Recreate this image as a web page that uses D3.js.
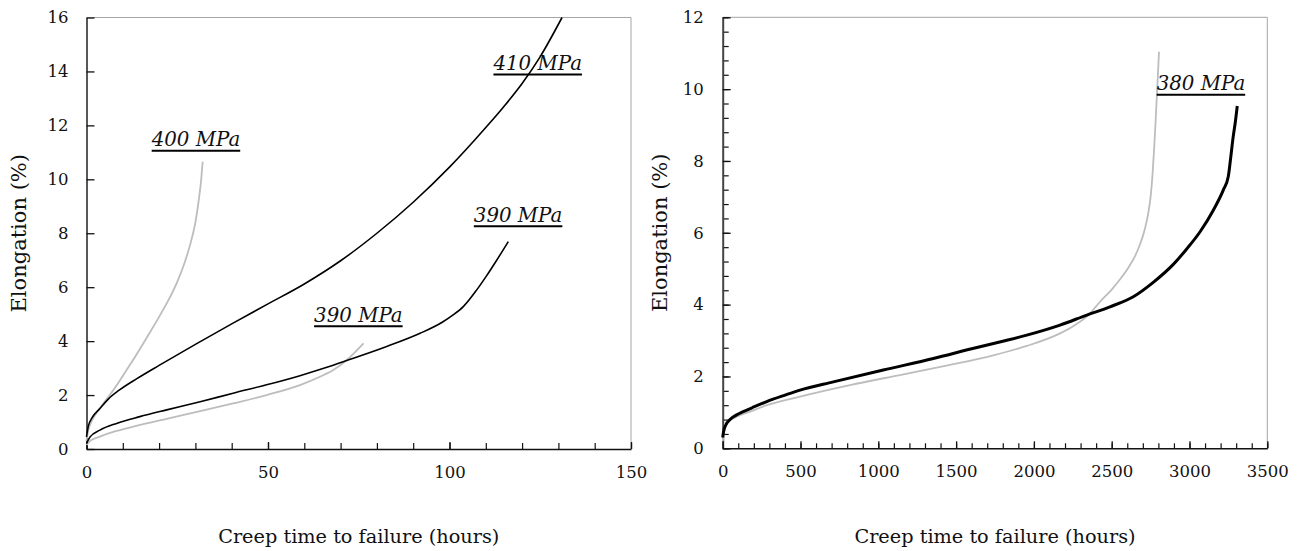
<!DOCTYPE html>
<html><head><meta charset="utf-8">
<script src="https://cdn.jsdelivr.net/npm/d3@7"></script>
<style>
body{margin:0;background:#fff;}
svg{display:block;font-family:"DejaVu Serif",serif;}
</style></head>
<body>
<svg id="c" width="1304" height="551"></svg>
<script>
// ---- Data ----
const leftXTicks = [0, 50, 100, 150];
const leftYTicks = [0, 2, 4, 6, 8, 10, 12, 14, 16];
const rightXTicks = [0, 500, 1000, 1500, 2000, 2500, 3000, 3500];
const rightYTicks = [0, 2, 4, 6, 8, 10, 12];

const left400gray = [[0,0.3],[0.5,0.7],[1.5,1.05],[3,1.38],[5,1.75],[8,2.3],[11,2.92],[14,3.55],[17,4.22],[20,4.9],[22.5,5.5],[25,6.2],[27,6.9],[28.5,7.55],[30,8.4],[31,9.3],[31.6,10.0],[32,10.65]];
const left410black = [[0,0.45],[0.5,0.85],[1.5,1.15],[3.7,1.5],[6,1.85],[9.2,2.2],[14,2.62],[20,3.1],[30,3.88],[40,4.64],[50,5.38],[60,6.12],[70,6.98],[80,8.0],[90,9.15],[100,10.45],[110,11.92],[115,12.7],[120,13.55],[125,14.55],[131,16.0]];
const left390black = [[0,0.2],[1,0.45],[3.7,0.7],[8.3,0.95],[14.7,1.2],[22.1,1.45],[31.3,1.75],[40.4,2.07],[49.6,2.38],[58.8,2.72],[66,3.02],[71.7,3.28],[82.7,3.8],[91.9,4.29],[98,4.7],[101,4.97],[103.8,5.28],[107.5,5.9],[110.2,6.42],[113,7.0],[116.2,7.69]];
const left390gray = [[0,0.15],[1,0.3],[3.7,0.46],[8,0.66],[12.9,0.83],[22.1,1.12],[31.3,1.4],[40.4,1.69],[49.6,2.0],[58.8,2.37],[64.3,2.68],[68,2.93],[71.7,3.3],[76.3,3.92]];

const right380black = [[0,0.3],[5,0.45],[20,0.65],[47,0.8],[90,0.93],[132,1.02],[200,1.15],[283,1.3],[400,1.48],[497,1.62],[711,1.85],[1032,2.18],[1354,2.5],[1600,2.77],[1800,2.98],[1954,3.15],[2168,3.43],[2340,3.71],[2489,3.94],[2639,4.22],[2767,4.62],[2896,5.12],[2982,5.55],[3068,6.03],[3153,6.63],[3217,7.19],[3249,7.56],[3265,8.1],[3280,8.65],[3295,9.1],[3307,9.53]];
const right380gray = [[0,0.2],[5,0.35],[15,0.6],[40,0.75],[90,0.88],[180,1.03],[283,1.2],[497,1.44],[818,1.76],[1139,2.04],[1461,2.32],[1643,2.49],[1739,2.59],[1954,2.85],[2168,3.2],[2260,3.42],[2350,3.71],[2425,4.08],[2500,4.42],[2560,4.74],[2610,5.05],[2650,5.35],[2682,5.68],[2714,6.12],[2735,6.55],[2750,7.0],[2762,7.6],[2772,8.3],[2781,9.0],[2790,9.8],[2797,10.4],[2804,11.04]];

const xTitle = "Creep time to failure (hours)";
const yTitle = "Elongation (%)";

// ---- Drawing ----
const svg = d3.select("#c");
const fmt = d3.format("d");

function panel(cfg){
  const g = svg.append("g");
  const x = d3.scaleLinear().domain(cfg.xd).range(cfg.xr);
  const y = d3.scaleLinear().domain(cfg.yd).range(cfg.yr);
  g.append("line").attr("x1",x(cfg.xd[0])).attr("x2",x(cfg.xd[1])).attr("y1",y(cfg.yd[1])).attr("y2",y(cfg.yd[1])).attr("stroke","#a6a6a6").attr("stroke-width",1);
  g.append("line").attr("x1",x(cfg.xd[1])).attr("x2",x(cfg.xd[1])).attr("y1",y(cfg.yd[1])).attr("y2",y(cfg.yd[0])).attr("stroke","#a6a6a6").attr("stroke-width",1);

  const yMinor = g.append("g").attr("transform",`translate(${x(cfg.xd[0])},0)`)
    .call(d3.axisLeft(y).tickValues(cfg.yMinor).tickSize(-cfg.yMinorLen).tickFormat(""));
  yMinor.select(".domain").remove();
  yMinor.selectAll("line").attr("stroke","#111").attr("stroke-width",1.2);
  const xMinor = g.append("g").attr("transform",`translate(0,${y(cfg.yd[0])})`)
    .call(d3.axisBottom(x).tickValues(cfg.xMinor).tickSize(-cfg.xMinorLen).tickFormat(""));
  xMinor.select(".domain").remove();
  xMinor.selectAll("line").attr("stroke","#111").attr("stroke-width",1.2);

  const ya = g.append("g").attr("transform",`translate(${x(cfg.xd[0])},0)`)
    .call(d3.axisLeft(y).tickValues(cfg.yTicks).tickFormat(fmt).tickSize(-cfg.yMajorLen).tickSizeOuter(0).tickPadding(cfg.yPad));
  ya.select(".domain").attr("stroke",cfg.yAxisColor).attr("stroke-width",cfg.yAxisW);
  ya.selectAll("line").attr("stroke","#111").attr("stroke-width",1.3);
  ya.selectAll("text").attr("font-family","DejaVu Serif").attr("font-size",16.5).attr("fill","#111");

  const xa = g.append("g").attr("transform",`translate(0,${y(cfg.yd[0])})`)
    .call(d3.axisBottom(x).tickValues(cfg.xTicks).tickFormat(fmt).tickSize(-cfg.xMajorLen).tickSizeOuter(0).tickPadding(cfg.xPad));
  xa.select(".domain").attr("stroke","#111").attr("stroke-width",1.4);
  xa.selectAll("line").attr("stroke","#111").attr("stroke-width",1.3);
  xa.selectAll("text").attr("font-family","DejaVu Serif").attr("font-size",16.5).attr("fill","#111");

  g.append("text").attr("x",(cfg.xr[0]+cfg.xr[1])/2).attr("y",cfg.xTitleY)
    .attr("text-anchor","middle").attr("font-size",19.3).attr("fill","#111").text(xTitle);
  g.append("text").attr("transform",`translate(${cfg.yTitleX},${(cfg.yr[0]+cfg.yr[1])/2}) rotate(-90)`)
    .attr("text-anchor","middle").attr("font-size",21).attr("fill","#111").text(yTitle);

  const line = d3.line().x(d=>x(d[0])).y(d=>y(d[1])).curve(d3.curveMonotoneX);
  cfg.series.forEach(s=>{
    g.append("path").datum(s.data).attr("d",line).attr("fill","none")
      .attr("stroke",s.color).attr("stroke-width",s.w).attr("stroke-linejoin","round");
  });

  cfg.labels.forEach(l=>{
    const t = g.append("text").attr("x",x(l.at[0])).attr("y",y(l.at[1]))
      .attr("font-size",19.8).attr("font-style","italic").attr("fill","#111").text(l.text);
    const w = t.node().getComputedTextLength();
    g.append("line").attr("x1",x(l.at[0])).attr("x2",x(l.at[0])+w)
      .attr("y1",y(l.at[1])+4.5).attr("y2",y(l.at[1])+4.5).attr("stroke","#000").attr("stroke-width",2);
  });
}

panel({
  xd:[0,150], xr:[86.5,631], yd:[0,16], yr:[449,17.5],
  xTicks:leftXTicks, yTicks:leftYTicks,
  xMinor:d3.range(0,151,10), yMinor:[],
  xMinorLen:6, yMinorLen:0, xMajorLen:7, yMajorLen:8,
  yPad:18, xPad:17, yAxisColor:"#111", yAxisW:1.4,
  xTitleY:543, yTitleX:26,
  series:[
    {data:left400gray,color:"#bdbdbd",w:1.8},
    {data:left390gray,color:"#bdbdbd",w:1.8},
    {data:left410black,color:"#000",w:1.6},
    {data:left390black,color:"#000",w:1.6}
  ],
  labels:[
    {text:"400 MPa",at:[17.96,11.23]},
    {text:"410 MPa",at:[112.1,14.05]},
    {text:"390 MPa",at:[106.7,8.43]},
    {text:"390 MPa",at:[62.7,4.72]}
  ]
});

panel({
  xd:[0,3500], xr:[722.7,1267.3], yd:[0,12], yr:[448.3,17.3],
  xTicks:rightXTicks, yTicks:rightYTicks,
  xMinor:d3.range(0,3501,100), yMinor:d3.range(0,12.01,0.4),
  xMinorLen:5, yMinorLen:6, xMajorLen:7, yMajorLen:8,
  yPad:19, xPad:17, yAxisColor:"#444", yAxisW:2,
  xTitleY:543, yTitleX:667,
  series:[
    {data:right380gray,color:"#bdbdbd",w:1.8},
    {data:right380black,color:"#000",w:3}
  ],
  labels:[
    {text:"380 MPa",at:[2789,9.97]}
  ]
});
</script>
</body></html>
